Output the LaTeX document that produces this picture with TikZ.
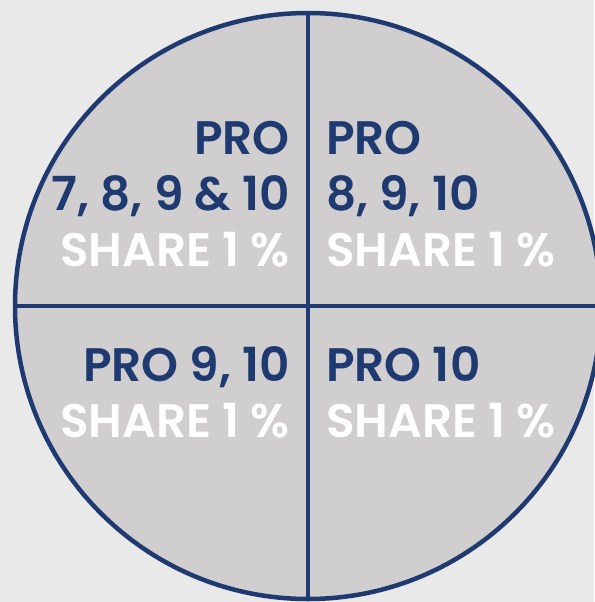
\documentclass[tikz,border=0pt]{standalone}
\usepackage{fontspec}
\setmainfont{Poppins}[UprightFont=* SemiBold]
\definecolor{pagegrey}{RGB}{233,233,233}
\definecolor{discgrey}{RGB}{208,206,207}
\definecolor{navy}{RGB}{31,58,112}
\tikzset{
  quadtext/.style={inner sep=0,text=navy,font=\quadfontsize}
}
\providecommand{\quadfontsize}{\fontsize{47pt}{56pt}\selectfont}

\begin{document}
\begin{tikzpicture}[x=1pt,y=-1pt]
    \pgfmathsetmacro{\pagewidth}{594}
    \pgfmathsetmacro{\pageheight}{602}
    \pgfmathsetmacro{\discradius}{293}
    \pgfmathsetmacro{\disccx}{308}
    \pgfmathsetmacro{\disccy}{306}
    \pgfmathsetmacro{\textgap}{18}
    \fill[pagegrey] (0,0) rectangle (\pagewidth,\pageheight);
    \useasboundingbox (0,0) rectangle (\pagewidth,\pageheight);
    \node[circle,draw=navy,fill=discgrey,line width=4.5pt,inner sep=0,minimum size=2*\discradius pt] (disc) at (\disccx,\disccy) {};
    \draw[navy,line width=3.5pt] (disc.north) -- (disc.south);
    \draw[navy,line width=3.5pt] (disc.west) -- (disc.east);
    % upper quadrants
    \node[quadtext,anchor=north east,align=right] (proseven) at (\disccx-\textgap,121)
    {PRO\\7, 8, 9 \& 10\\\textcolor{white}{SHARE 1 \%}};
    \node[quadtext,anchor=north west,align=left] (proeight) at (\disccx+\textgap,121)
    {PRO\\8, 9, 10\\\textcolor{white}{SHARE 1 \%}};
    % lower quadrants
    \node[quadtext,anchor=north east,align=right] (pronine) at (\disccx-\textgap,346)
    {PRO 9, 10\\\textcolor{white}{SHARE 1 \%}};
    \node[quadtext,anchor=north west,align=left] (proten) at (\disccx+\textgap,346)
    {PRO 10\\\textcolor{white}{SHARE 1 \%}};
\end{tikzpicture}
\end{document}
